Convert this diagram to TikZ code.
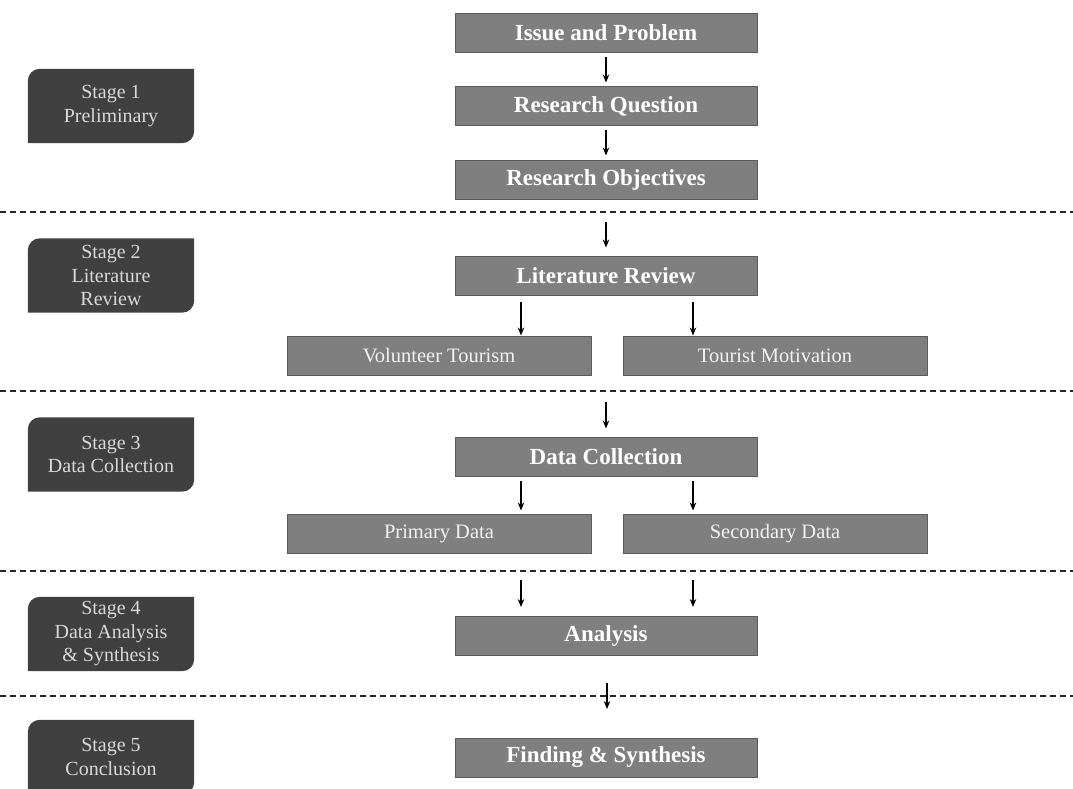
\documentclass[tikz,border=0pt]{standalone}
\usepackage{fontspec}
\setmainfont{Liberation Serif}
\usetikzlibrary{arrows.meta,backgrounds}
\definecolor{boxfill}{HTML}{7F7F7F}
\definecolor{boxline}{HTML}{5A5A5A}
\definecolor{stagefill}{HTML}{404040}
\definecolor{stagetext}{HTML}{D9D9D9}
\tikzset{
  mainbox/.style={draw=boxline, line width=1pt, fill=boxfill, minimum width=302pt, minimum height=39pt, inner sep=0pt, text=white, font=\fontsize{23}{27}\selectfont\bfseries},
  subbox/.style={draw=boxline, line width=1pt, fill=boxfill, minimum width=304pt, minimum height=39pt, inner sep=0pt, text=white!95!black, font=\fontsize{20.5}{24}\selectfont},
  stagebox/.style={minimum width=166pt, minimum height=74pt, inner sep=0pt, align=center, text=stagetext, font=\fontsize{20}{23.5}\selectfont},
  flow/.style={-{Stealth[length=8pt,width=6.5pt]}, line width=1.4pt, black},
  sep/.style={dash pattern=on 6pt off 4pt, line width=1.1pt, black!85},
}
\newcommand{\stageshape}[1]{%
  \begin{scope}[on background layer]
  \fill[stagefill] (#1.south west) -- ([yshift=-12pt]#1.north west) arc[start angle=180,end angle=90,radius=12pt] -- (#1.north east) -- ([yshift=12pt]#1.south east) arc[start angle=0,end angle=-90,radius=12pt] -- cycle;
  \end{scope}}
\begin{document}
\begin{tikzpicture}[x=1pt,y=-1pt]
\useasboundingbox (0,0) rectangle (1073,789);
% separators
\foreach \yy/\nm in {212/d1,391/d2,571/d3,696/d4}{
  \coordinate (\nm l) at (0,\yy);
  \coordinate (\nm r) at (1073,\yy);
  \draw[sep] (\nm l) -- (\nm r);
}
% stage boxes
\node[stagebox] (s1) at (111,106) {\raisebox{0pt}{Stage 1}\\[1pt]Preliminary};
\node[stagebox] (s2) at (111,275.5) {Stage 2\\Literature\\Review};
\node[stagebox] (s3) at (111,454.5) {Stage 3\\Data Collection};
\node[stagebox] (s4) at (111,634) {Stage 4\\Data Analysis\\\&~Synthesis};
\node[stagebox] (s5) at (111,757) {Stage 5\\Conclusion};
\stageshape{s1}\stageshape{s2}\stageshape{s3}\stageshape{s4}\stageshape{s5}
% main boxes
\node[mainbox] (ip) at (606,33) {Issue and Problem};
\node[mainbox] (rq) at (606,106.5) {Research Question};
\node[mainbox] (ro) at (606,179.5) {Research Objectives};
\node[mainbox] (lr) at (606,275.5) {Literature Review};
\node[subbox] (vt) at (439,355.5) {Volunteer Tourism};
\node[subbox] (tm) at (775,355.5) {Tourist Motivation};
\node[mainbox] (dc) at (606,456.5) {Data Collection};
\node[subbox] (pd) at (439,533.5) {Primary Data};
\node[subbox] (sd) at (775,533.5) {Secondary Data};
\node[mainbox] (an) at (606,635.5) {Analysis};
\node[mainbox] (fs) at (606,757.5) {Finding \& Synthesis};
% arrows
\draw[flow] ([yshift=-4pt]ip.south) -- ([yshift=4pt]rq.north);
\draw[flow] ([yshift=-4pt]rq.south) -- ([yshift=4pt]ro.north);
\coordinate (a2) at (606,222);
\draw[flow] (a2) -- ([yshift=8pt]lr.north);
\coordinate (lrl) at (521,302);
\coordinate (lrr) at (693,302);
\draw[flow] (lrl) -- (vt.north -| lrl);
\draw[flow] (lrr) -- (tm.north -| lrr);
\coordinate (a3) at (606,402);
\draw[flow] (a3) -- ([yshift=8pt]dc.north);
\coordinate (dcl) at (521,481);
\coordinate (dcr) at (693,481);
\draw[flow] (dcl) -- ([yshift=3pt]pd.north -| dcl);
\draw[flow] (dcr) -- ([yshift=3pt]sd.north -| dcr);
\coordinate (a4l) at (521,580);
\coordinate (a4le) at (521,607);
\coordinate (a4r) at (693,580);
\coordinate (a4re) at (693,607);
\draw[flow] (a4l) -- (a4le);
\draw[flow] (a4r) -- (a4re);
\coordinate (a5) at (607,683);
\coordinate (a5e) at (607,709);
\draw[flow] (a5) -- (a5e);
\end{tikzpicture}
\end{document}
